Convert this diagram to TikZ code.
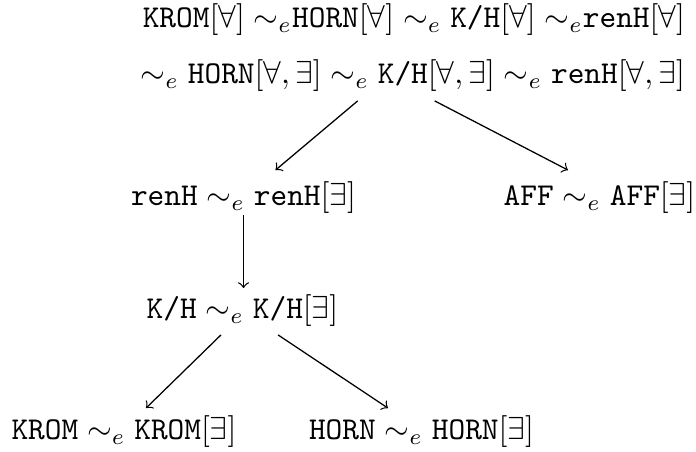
\documentclass[tikz,border=0pt]{standalone}
\usetikzlibrary{calc}
\begin{document}
\begin{tikzpicture}[x=0.3145pt,y=-0.3145pt,
  lbl/.style={inner sep=0pt,outer sep=0pt},
  arr/.style={->,line width=0.4pt}]
\useasboundingbox (0,0) rectangle (696,452);
\clip (0,0) rectangle (696,452);
\newcommand{\tty}[1]{\texttt{#1}}
\node[lbl,anchor=east] (l1) at (685,19.5)
  {$\tty{KROM}[\forall]\;{\sim_e}\tty{HORN}[\forall] \sim_e \tty{K/H}[\forall]\;{\sim_e}\tty{renH}[\forall]$};
\node[lbl,anchor=east] (l2) at (685,76)
  {${\sim_e}\; \tty{HORN}[\forall,\exists] \sim_e \tty{K/H}[\forall,\exists] \sim_e \tty{renH}[\forall,\exists]$};
\node[lbl] (renh) at (243.5,198) {$\tty{renH} \sim_e \tty{renH}[\exists]$};
\node[lbl] (aff) at (599.5,198) {$\tty{AFF} \sim_e \tty{AFF}[\exists]$};
\node[lbl] (kh) at (242.5,311) {$\tty{K/H} \sim_e \tty{K/H}[\exists]$};
\node[lbl] (krom) at (124,432) {$\tty{KROM} \sim_e \tty{KROM}[\exists]$};
\node[lbl] (horn) at (421.5,432) {$\tty{HORN} \sim_e \tty{HORN}[\exists]$};
\coordinate (s1) at ($(l2.south west)+(217,9)$);
\coordinate (s2) at ($(l2.south west)+(294,9)$);
\draw[arr] (s1) -- ($(renh.north)+(32,-12)$);
\draw[arr] (s2) -- ($(aff.north)+(-31.5,-12)$);
\draw[arr] ($(renh.south)+(0,1)$) -- ($(renh.south |- kh.north)+(0,-7)$);
\draw[arr] ($(kh.south)+(-21.5,8)$) -- ($(krom.north)+(22,-8)$);
\draw[arr] ($(kh.south)+(35.5,8)$) -- ($(horn.north)+(-33.5,-8)$);
\end{tikzpicture}
\end{document}
